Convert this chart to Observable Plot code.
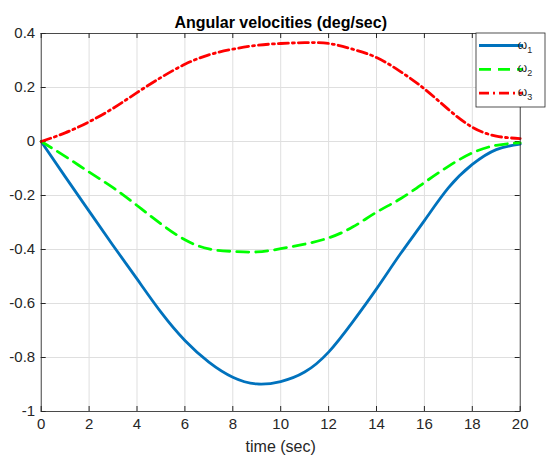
<!DOCTYPE html>
<html><head><meta charset="utf-8">
<script src="https://cdn.jsdelivr.net/npm/d3@7"></script>
<script src="https://cdn.jsdelivr.net/npm/@observablehq/plot@0.6"></script>
<style>body{margin:0;background:#fff;} #chart{position:relative;width:546px;height:455px;}</style>
</head><body><div id="chart"></div>
<script>
const time = [0,1,2,3,4,5,6,7,8,9,10,11,12,13,14,15,16,17,18,19,20];
const omega1 = [0,-0.13,-0.258,-0.385,-0.509,-0.632,-0.737,-0.817,-0.873,-0.898,-0.889,-0.854,-0.780,-0.669,-0.546,-0.416,-0.293,-0.172,-0.085,-0.03,-0.01];
const omega2 = [0,-0.055,-0.113,-0.171,-0.237,-0.305,-0.364,-0.398,-0.407,-0.409,-0.397,-0.38,-0.357,-0.317,-0.262,-0.212,-0.152,-0.092,-0.042,-0.014,-0.005];
const omega3 = [0,0.032,0.073,0.123,0.181,0.237,0.286,0.321,0.342,0.356,0.363,0.366,0.363,0.342,0.311,0.259,0.195,0.119,0.053,0.02,0.011];
const seriesNames = ["ω1","ω2","ω3"];
const seriesSubs = ["1","2","3"];
const colors = ["#0072BD","#00FF00","#FF0000"];
const dashes = [null,"12,7","10,4,2,4"];
const xTicks = [0,2,4,6,8,10,12,14,16,18,20];
const yTicks = [0.4,0.2,0,-0.2,-0.4,-0.6,-0.8,-1];
const yTickLabels = ["0.4","0.2","0","-0.2","-0.4","-0.6","-0.8","-1"];
const titleText = "Angular velocities (deg/sec)";
const xLabel = "time (sec)";

const allSeries = [omega1, omega2, omega3];
const lines = allSeries.map((vals, s) => time.map((t, i) => ({t, v: vals[i], s: seriesNames[s]})));

const ink = "#262626";
const frameW = 479, frameH = 378;

const chart = Plot.plot({
  width: 546, height: 455,
  marginLeft: 40.7, marginRight: 26.3, marginTop: 33, marginBottom: 44,
  x: {domain: [0, 20]},
  y: {domain: [-1, 0.4]},
  style: {fontFamily: "'Liberation Sans', Arial, sans-serif", fontSize: "15px", color: ink, background: "#fff"},
  marks: [
    Plot.gridX(xTicks, {stroke: "#dfdfdf", strokeOpacity: 1}),
    Plot.gridY(yTicks, {stroke: "#dfdfdf", strokeOpacity: 1}),
    Plot.axisX(xTicks, {tickSize: 0, tickPadding: 7, label: null, fontSize: 15, tickFormat: d => String(d)}),
    Plot.axisY(yTicks, {tickSize: 0, tickPadding: 6, label: null, fontSize: 15, tickFormat: d => yTickLabels[yTicks.indexOf(d)]}),
    Plot.tickX(xTicks, {x: d => d, insetTop: frameH - 5, stroke: ink}),
    Plot.tickX(xTicks, {x: d => d, insetBottom: frameH - 5, stroke: ink}),
    Plot.tickY(yTicks, {y: d => d, insetRight: frameW - 5, stroke: ink}),
    Plot.tickY(yTicks, {y: d => d, insetLeft: frameW - 5, stroke: ink}),
    ...lines.map((data, s) => Plot.line(data, {
      x: "t", y: "v", stroke: colors[s], strokeWidth: 2.8, curve: "natural",
      strokeDasharray: dashes[s] || undefined
    })),
    Plot.frame({stroke: ink, strokeWidth: 0.8}),
    Plot.text([titleText], {frameAnchor: "top", lineAnchor: "middle", dy: -11, fontWeight: "bold", fontSize: 16, fill: "#000"}),
    Plot.text([xLabel], {frameAnchor: "bottom", lineAnchor: "middle", dy: 35, fontSize: 16, fill: ink})
  ]
});
document.getElementById("chart").appendChild(chart);

// legend box (MATLAB style)
const svg = d3.select(chart);
const lg = svg.append("g");
const lx = 476, ly = 33, lw = 69, rowH = 23.8;
lg.append("rect").attr("x", lx).attr("y", ly).attr("width", lw).attr("height", 74)
  .attr("fill", "#fff").attr("stroke", ink).attr("stroke-width", 0.8);
seriesNames.forEach((name, s) => {
  const yy = ly + 12.5 + s * rowH;
  lg.append("line").attr("x1", lx + 3).attr("x2", lx + 47).attr("y1", yy).attr("y2", yy)
    .attr("stroke", colors[s]).attr("stroke-width", 2.8)
    .attr("stroke-dasharray", dashes[s]);
  const tx = lg.append("text").attr("x", lx + 49).attr("y", yy + 3)
    .attr("font-family", "'Liberation Sans', Arial, sans-serif").attr("fill", ink).attr("font-size", 12);
  tx.append("tspan").text(name.slice(0, 1));
  tx.append("tspan").attr("font-size", 9).attr("dy", 4).text(seriesSubs[s]);
});
</script>
</body></html>
